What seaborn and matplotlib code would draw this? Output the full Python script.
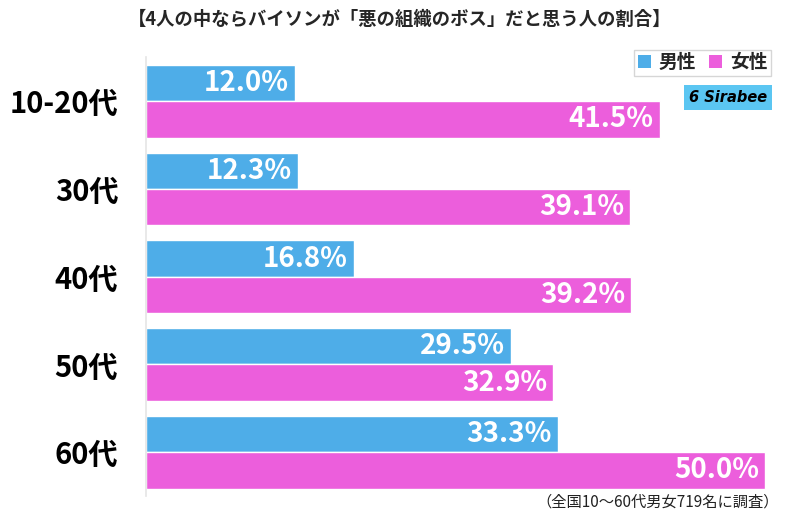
import numpy as np
import pandas as pd
import matplotlib
matplotlib.use("Agg")
import matplotlib.pyplot as plt
from matplotlib.patches import Patch
import seaborn as sns

ages = ["10-20代", "30代", "40代", "50代", "60代"]
male = [12.0, 12.3, 16.8, 29.5, 33.3]
female = [41.5, 39.1, 39.2, 32.9, 50.0]
series = ["男性", "女性"]
colors = ["#4EADE8", "#EC5EDC"]

title = "【4人の中ならバイソンが「悪の組織のボス」だと思う人の割合】"
note = "（全国10～60代男女719名に調査）"

sns.set_theme(style="white")
plt.rcParams["font.family"] = ["Noto Sans CJK JP", "DejaVu Sans"]

df = pd.DataFrame({
    "age": ages * 2,
    "sex": [series[0]] * len(ages) + [series[1]] * len(ages),
    "value": male + female,
})

fig = plt.figure(figsize=(8, 5.12), dpi=100)
ax = fig.add_axes([0.1825, 0.031, 0.78, 0.857])

sns.barplot(data=df, x="value", y="age", hue="sex", orient="h",
            palette=colors, width=0.83, saturation=1, ax=ax, legend=False)

ax.set_xlim(0, 50.4)
ax.set_xlabel(""); ax.set_ylabel("")
ax.set_xticks([])
for s in ["top", "right", "bottom"]:
    ax.spines[s].set_visible(False)
ax.spines["left"].set_color("#e6e6e6")
ax.tick_params(axis="y", length=0, pad=20)
for lab in ax.get_yticklabels():
    lab.set_fontsize(21); lab.set_fontweight("bold"); lab.set_color("black")

# value labels inside the bar ends
for cont in ax.containers:
    for rect in cont:
        w = rect.get_width()
        ax.text(w - 0.5, rect.get_y() + rect.get_height() / 2, f"{w:.1f}%",
                ha="right", va="center", color="white", fontsize=20, fontweight="bold")

fig.text(0.5, 0.963, title, ha="center", va="center", fontsize=13.2, fontweight="bold")
fig.text(0.973, 0.02, note, ha="right", va="center", fontsize=11, color="#222222")

handles = [Patch(facecolor=c, edgecolor="none", label=s) for c, s in zip(colors, series)]
leg = fig.legend(handles=handles, loc="upper right", bbox_to_anchor=(0.964, 0.903), ncol=2,
                 frameon=True, fancybox=False, handlelength=0.7, handleheight=0.7,
                 handletextpad=0.4, columnspacing=0.7, borderpad=0.2, borderaxespad=0,
                 prop={"size": 13.5, "weight": "bold"})
leg.get_frame().set_edgecolor("#cccccc")
leg.get_frame().set_linewidth(1)

fig.text(0.959, 0.81, "6 Sirabee", ha="right", va="center", fontsize=10.5, fontweight="bold",
         style="italic", family="DejaVu Sans", color="black",
         bbox=dict(boxstyle="square,pad=0.35", facecolor="#5BC6F2", edgecolor="none"))

plt.savefig("out.png", dpi=100)
plt.close()
